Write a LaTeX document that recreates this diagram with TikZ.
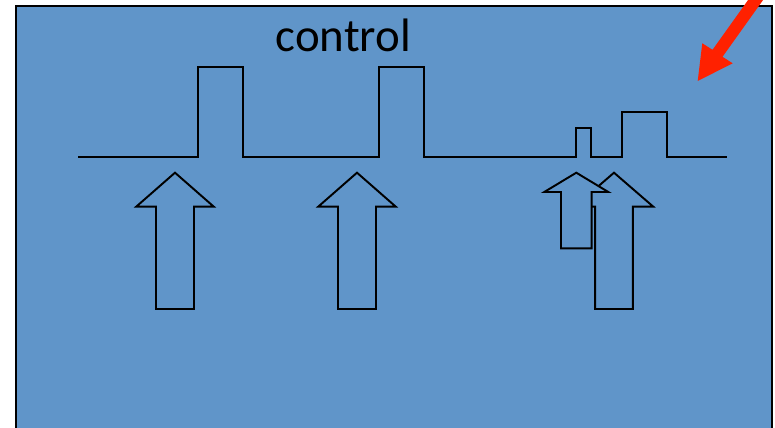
\documentclass[tikz,border=0pt]{standalone}
\usepackage{fontspec}
\setmainfont{Carlito}
\usepackage{pgf,tikz}
\definecolor{qqblue}{rgb}{0.376,0.584,0.788}
\definecolor{ffred}{rgb}{1,0.13,0}

\begin{document}
\begin{tikzpicture}[x=0.02cm,y=-0.02cm]
		\useasboundingbox (0,0) rectangle (775,428);
		\fill[color=white] (0,0) rectangle (775,428);
		\draw[line width=1pt,color=black,fill=qqblue] (16,460) -- (16,6) -- (771.7,6) -- (771.7,460);
		\draw[color=black] (343.4,52) node[anchor=base,font=\fontsize{26.7}{30}\selectfont] (ctrl) {control};
		\draw[line width=1.1pt,color=black] (78,157) -- (198,157) -- (198,67) -- (243,67) -- (243,157) -- (379,157) -- (379,67) -- (424,67) -- (424,157) -- (575.7,157) -- (575.7,127.7) -- (591,127.7) -- (591,157) -- (621.7,157) -- (621.7,112.3) -- (666.7,112.3) -- (666.7,157) -- (726.7,157);
		\draw[line width=1.1pt,color=black,fill=qqblue] (175,172.7) -- (213.8,206.7) -- (194,206.7) -- (194,309) -- (156,309) -- (156,206.7) -- (136.2,206.7) -- cycle;
		\draw[line width=1.1pt,color=black,fill=qqblue] (357,172.7) -- (395.8,206.7) -- (376,206.7) -- (376,309) -- (338,309) -- (338,206.7) -- (318.2,206.7) -- cycle;
		\draw[line width=1.1pt,color=black,fill=qqblue] (614,172.7) -- (653.3,206.7) -- (632.8,206.7) -- (632.8,309) -- (595.2,309) -- (595.2,206.7) -- (574.7,206.7) -- cycle;
		\draw[line width=1.1pt,color=black,fill=qqblue] (576.3,172.7) -- (608.3,192) -- (591.6,192) -- (591.6,248.3) -- (561,248.3) -- (561,192) -- (544.3,192) -- cycle;
		\fill[color=ffred] (697.7,81) -- (702.3,43.3) -- (712.5,49.8) -- (770.6,-31.5) -- (780.6,-24.5) -- (722.5,56.8) -- (732.7,63.3) -- cycle;
\end{tikzpicture}
\end{document}
